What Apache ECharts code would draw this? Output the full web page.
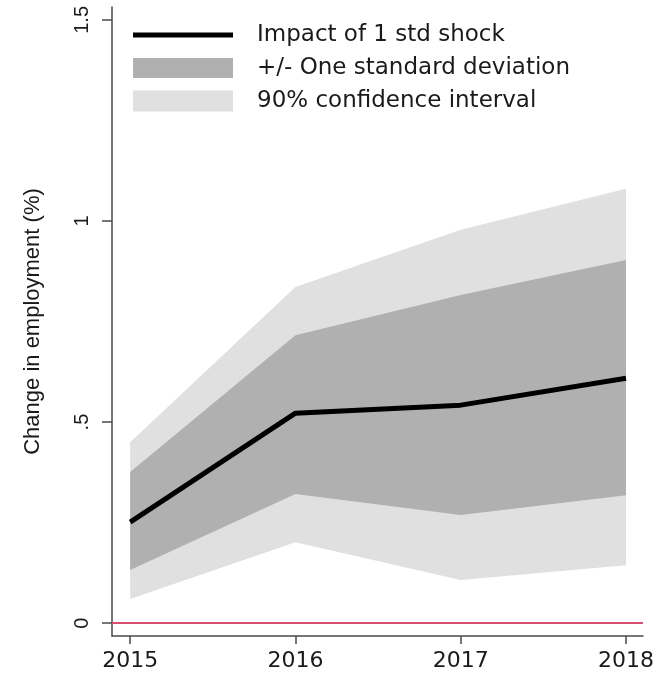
<!DOCTYPE html>
<html>
<head>
<meta charset="utf-8">
<title>Change in employment</title>
<script src="https://cdn.jsdelivr.net/npm/echarts@6/dist/echarts.min.js"></script>
<style>
  html, body { margin: 0; padding: 0; background: #ffffff; }
  #chart { width: 664px; height: 676px; }
</style>
</head>
<body>
<div id="chart"></div>
<script>
// Years on the horizontal axis
const years = [2015, 2016, 2017, 2018];

// Estimated impact of a one standard deviation shock (%)
const impact = [0.251, 0.522, 0.542, 0.609];

// +/- one standard deviation band
const sdLower = [0.132, 0.321, 0.269, 0.318];
const sdUpper = [0.376, 0.716, 0.816, 0.903];

// 90% confidence interval band
const ciLower = [0.060, 0.201, 0.107, 0.144];
const ciUpper = [0.450, 0.836, 0.978, 1.080];

// Axis ticks and their labels
const xTickValues = [2015, 2016, 2017, 2018];
const xTickLabels = ['2015', '2016', '2017', '2018'];
const yTickValues = [0, 0.5, 1, 1.5];
const yTickLabels = ['0', '.5', '1', '1.5'];

// Axis ranges, with a little room beyond the outer ticks
const xMin = 2014.89, xMax = 2018.103;
const yMin = -0.032, yMax = 1.532;

const pairs = (xs, ys) => xs.map((x, i) => [x, ys[i]]);
const bandRows = (lo, hi) => years.map((x, i) => [x, lo[i], hi[i]]);

const sdName = '+/- One standard deviation';
const ciName = '90% confidence interval';
const lineName = 'Impact of 1 std shock';

const darkGrey = '#b0b0b0';
const lightGrey = '#e0e0e0';
const textColor = '#1a1a1a';
const axisColor = '#4a4a4a';

// A shaded band: one polygon along the upper edge and back along the lower edge
function bandRenderer(fill) {
  return function (params, api) {
    if (params.dataIndex !== 0) return null;
    const upper = [], lower = [];
    for (let i = 0; i < years.length; i++) {
      upper.push(api.coord([api.value(0, i), api.value(2, i)]));
      lower.push(api.coord([api.value(0, i), api.value(1, i)]));
    }
    return {
      type: 'polygon',
      shape: { points: upper.concat(lower.reverse()) },
      style: { fill: fill, stroke: null },
      silent: true
    };
  };
}

const legendText = {
  fontFamily: 'DejaVu Sans',
  fontSize: 23,
  color: textColor,
  lineHeight: 26,
  padding: [0, 0, 0, 19]
};

const chart = echarts.init(document.getElementById('chart'), null, { renderer: 'canvas' });

chart.setOption({
  animation: false,
  backgroundColor: '#ffffff',
  grid: { left: 112, right: 21, top: 7, bottom: 40, containLabel: false },
  xAxis: {
    type: 'value',
    min: xMin,
    max: xMax,
    splitLine: { show: false },
    axisLine: { show: true, onZero: false, lineStyle: { color: axisColor, width: 1.5 } },
    axisTick: { show: true, length: 8, customValues: xTickValues, lineStyle: { color: axisColor, width: 1.5 } },
    axisLabel: {
      customValues: xTickValues,
      formatter: v => xTickLabels[xTickValues.indexOf(v)],
      fontFamily: 'DejaVu Sans',
      fontSize: 22,
      color: textColor,
      margin: 14
    }
  },
  yAxis: {
    type: 'value',
    min: yMin,
    max: yMax,
    splitLine: { show: false },
    name: 'Change in employment (%)',
    nameLocation: 'middle',
    nameRotate: 90,
    nameGap: 68,
    nameTextStyle: { fontFamily: 'Liberation Sans', fontSize: 22, color: textColor },
    axisLine: { show: true, onZero: false, lineStyle: { color: axisColor, width: 1.5 } },
    axisTick: { show: true, length: 10, customValues: yTickValues, lineStyle: { color: axisColor, width: 1.5 } },
    axisLabel: {
      customValues: yTickValues,
      formatter: v => yTickLabels[yTickValues.indexOf(v)],
      rotate: 90,
      fontFamily: 'Liberation Sans',
      fontSize: 20,
      color: textColor,
      margin: 20
    }
  },
  legend: [
    {
      data: [{ name: lineName, icon: 'rect', itemStyle: { color: '#000000' } }],
      left: 133, top: 22, padding: 0,
      itemWidth: 100, itemHeight: 5,
      textStyle: legendText,
      selectedMode: false
    },
    {
      data: [{ name: sdName, icon: 'rect', itemStyle: { color: darkGrey } }],
      left: 133, top: 55, padding: 0,
      itemWidth: 100, itemHeight: 20,
      textStyle: legendText,
      selectedMode: false
    },
    {
      data: [{ name: ciName, icon: 'rect', itemStyle: { color: lightGrey } }],
      left: 133, top: 88, padding: 0,
      itemWidth: 100, itemHeight: 21,
      textStyle: legendText,
      selectedMode: false
    }
  ],
  series: [
    {
      name: ciName, type: 'custom', silent: true,
      coordinateSystem: 'cartesian2d',
      encode: { x: 0, y: [1, 2] },
      data: bandRows(ciLower, ciUpper),
      itemStyle: { color: lightGrey },
      renderItem: bandRenderer(lightGrey),
      z: 1
    },
    {
      name: sdName, type: 'custom', silent: true,
      coordinateSystem: 'cartesian2d',
      encode: { x: 0, y: [1, 2] },
      data: bandRows(sdLower, sdUpper),
      itemStyle: { color: darkGrey },
      renderItem: bandRenderer(darkGrey),
      z: 2
    },
    // Point estimate, with the zero reference line
    {
      name: lineName, type: 'line', symbol: 'none', silent: true,
      data: pairs(years, impact),
      color: '#000000',
      lineStyle: { color: '#000000', width: 5, join: 'round', cap: 'butt' },
      markLine: {
        silent: true,
        symbol: 'none',
        label: { show: false },
        lineStyle: { color: '#d4506e', width: 2, type: 'solid' },
        data: [{ yAxis: 0 }]
      },
      z: 3
    }
  ]
});
</script>
</body>
</html>
